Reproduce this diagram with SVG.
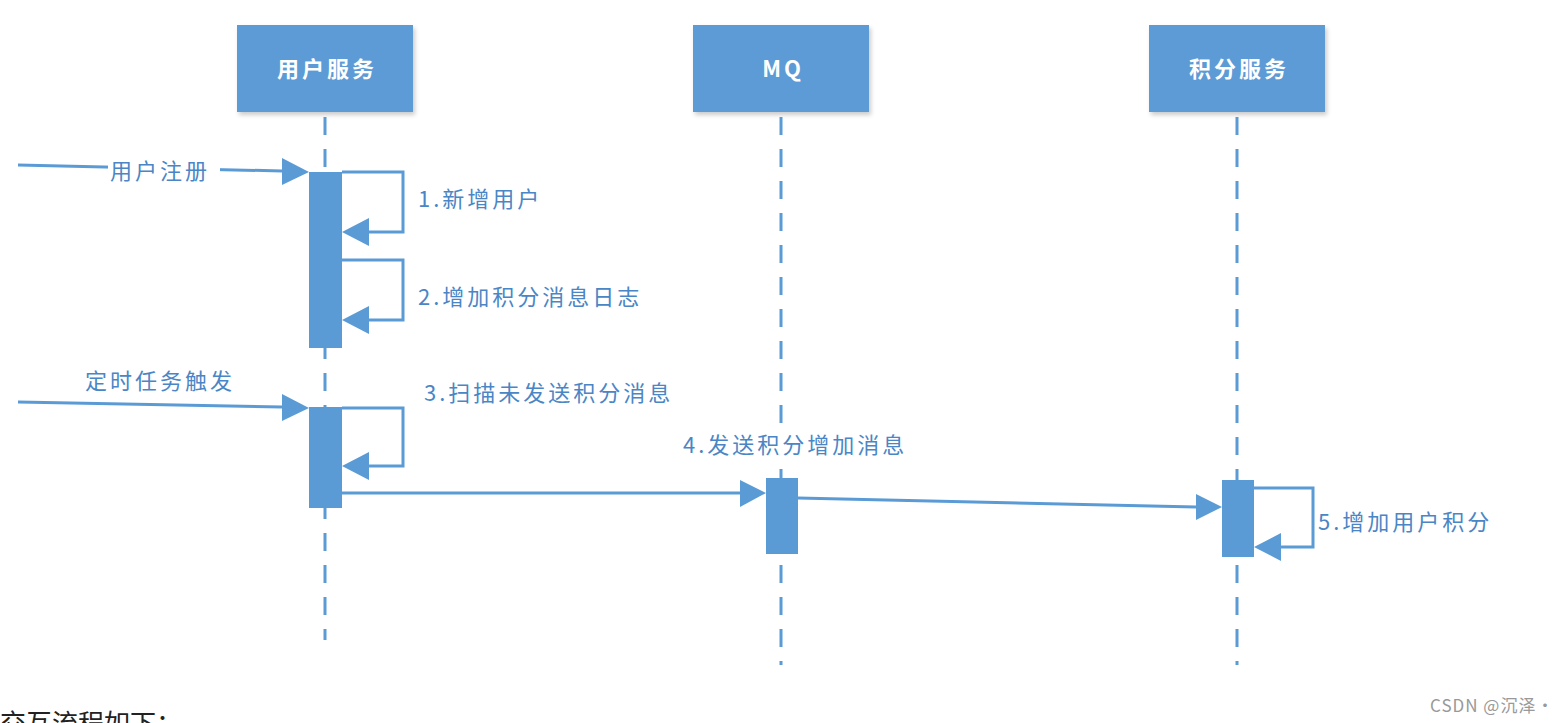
<svg xmlns="http://www.w3.org/2000/svg" width="1568" height="723" viewBox="0 0 1568 723">
<style>
.hd{fill:#5b9bd5;filter:url(#sh)}
.ht{font-family:"Noto Sans CJK SC","Liberation Sans",sans-serif;font-size:22px;font-weight:bold;fill:#fff;text-anchor:middle;letter-spacing:3px}
.life{stroke:#5b9bd5;stroke-width:3;stroke-dasharray:18,14;fill:none}
.bar{fill:#5b9bd5}
.ln{stroke:#5b9bd5;stroke-width:3;fill:none}
.lb{font-family:"Noto Sans CJK SC","Liberation Sans",sans-serif;font-size:22px;fill:#4a86c5;letter-spacing:3px}
</style>
<defs>
<filter id="sh" x="-10%" y="-10%" width="130%" height="130%"><feDropShadow dx="2" dy="3" stdDeviation="2" flood-color="#000" flood-opacity="0.2"/></filter>
</defs>
<rect width="1568" height="723" fill="#fff"/>
<g id="user"><rect class="hd" x="237" y="25" width="176" height="87"/><text class="ht" x="327" y="77">用户服务</text><line class="life" x1="325" y1="117" x2="325" y2="640"/></g>
<g id="mq"><rect class="hd" x="693" y="25" width="176" height="87"/><text class="ht" x="783" y="77">MQ</text><line class="life" x1="781" y1="117" x2="781" y2="665"/></g>
<g id="points"><rect class="hd" x="1149" y="25" width="176" height="87"/><text class="ht" x="1239" y="77">积分服务</text><line class="life" x1="1237" y1="117" x2="1237" y2="665"/></g>
<g id="bars">
<rect class="bar" x="309" y="172" width="33" height="176"/>
<rect class="bar" x="309" y="407" width="33" height="101"/>
<rect class="bar" x="766" y="478" width="32" height="76"/>
<rect class="bar" x="1222" y="480" width="32" height="77"/>
</g>
<g id="connectors">
<path class="ln" d="M18,165 L282,171" />
<path d="M282,158 L309,172 L282,185z" fill="#5b9bd5"/>
<rect x="108" y="156" width="112" height="30" fill="#fff"/>
<text class="lb" x="110" y="179">用户注册</text>
<path class="ln" d="M342,172 H403 V232 H368"/>
<path d="M369,218 L342,232 L369,246z" fill="#5b9bd5"/>
<text class="lb" x="418" y="207">1.新增用户</text>
<path class="ln" d="M342,260 H403 V320 H368"/>
<path d="M369,306 L342,320 L369,334z" fill="#5b9bd5"/>
<text class="lb" x="418" y="305">2.增加积分消息日志</text>
<path class="ln" d="M18,402 L282,407"/>
<path d="M282,394 L309,408 L282,421z" fill="#5b9bd5"/>
<text class="lb" x="85" y="389">定时任务触发</text>
<path class="ln" d="M342,408 H403 V466 H368"/>
<path d="M369,452 L342,466 L369,480z" fill="#5b9bd5"/>
<text class="lb" x="424" y="401">3.扫描未发送积分消息</text>
<path class="ln" d="M342,493 H740"/>
<path d="M740,480 L766,493 L740,507z" fill="#5b9bd5"/>
<rect x="683" y="432" width="240" height="28" fill="#fff"/>
<text class="lb" x="683" y="453">4.发送积分增加消息</text>
<path class="ln" d="M798,498 L1196,507"/>
<path d="M1196,494 L1222,507 L1196,520z" fill="#5b9bd5"/>
<path class="ln" d="M1254,488 H1313 V547 H1280"/>
<path d="M1281,533 L1254,547 L1281,561z" fill="#5b9bd5"/>
<text class="lb" x="1318" y="530">5.增加用户积分</text>
</g>
<text x="1430" y="712" font-family="Noto Sans CJK SC,Liberation Sans,sans-serif" font-size="17" fill="#999" letter-spacing="1">CSDN @沉泽·</text>
<text x="0" y="733" font-family="Noto Sans CJK SC,Liberation Sans,sans-serif" font-size="26" fill="#222">交互流程如下：</text>
</svg>
